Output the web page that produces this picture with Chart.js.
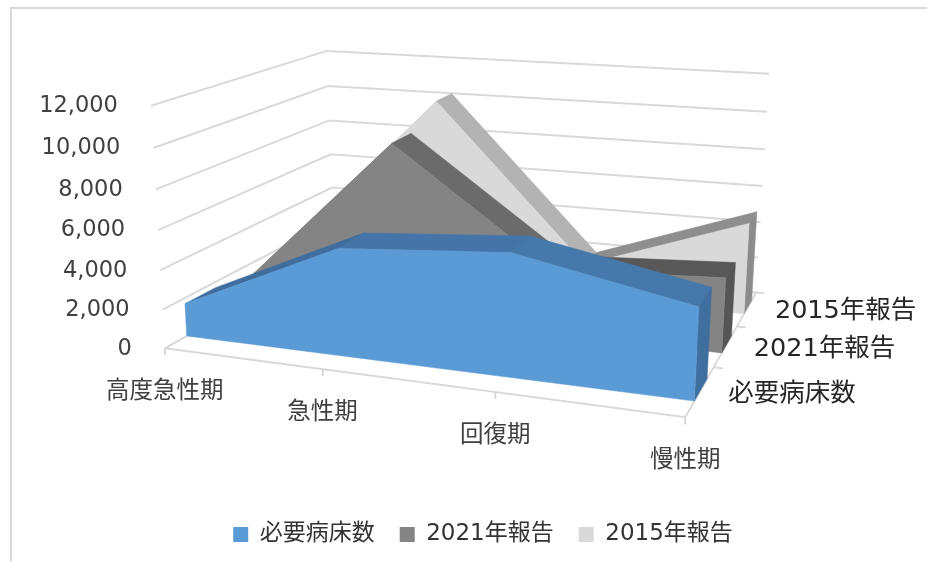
<!DOCTYPE html>
<html>
<head>
<meta charset="utf-8">
<style>
  html, body { margin: 0; padding: 0; background: #fff; }
  #wrap { width: 928px; height: 562px; }
</style>
<script src="https://cdn.jsdelivr.net/npm/chart.js@4/dist/chart.umd.min.js"></script>
</head>
<body>
<div id="wrap"><canvas id="myChart" width="928" height="562"></canvas></div>
<script>
const categories = ["高度急性期", "急性期", "回復期", "慢性期"]
const seriesNames = ["必要病床数", "2021年報告", "2015年報告"]
const need = [1700, 5450, 6150, 4550]
const report2021 = [1300, 9200, 3400, 3900]
const report2015 = [2300, 10250, 1900, 4950]
const yTicks = [0, 2000, 4000, 6000, 8000, 10000, 12000]
const yMax = 12000

const seriesValues = [need, report2021, report2015]
const frontColors = ["#5b9bd5", "#848484", "#d9d9d9"]
const topColors = [
  ["#3f6d9e", "#4575a8", "#4679ab"],
  ["#6b6b6b", "#6b6b6b", "#585858"],
  ["#b3b3b3", "#b3b3b3", "#8e8e8e"],
]
const sideColors = ["#3f6f9f", "#555555", "#8c8c8c"]
const gridColor = "#d9d9d9"
const textFont = '"DejaVu Sans", "Noto Sans CJK JP", sans-serif'

// corners of the 3d box in the picture: floor and top of it
const box = {
  floor: { fl: [165, 348], bl: [335, 252], fr: [686, 417], br: [757, 292] },
  top: { fl: [151, 105], bl: [327, 50], fr: [698, 154], br: [770, 73] },
}
const sliceStart = [0.3, 1.33, 2.35]
const sliceEnd = [0.75, 1.75, 2.75]

function persp(t, a) {
  return (t * a) / (t * a + 1 - t)
}

function mix(p, q, t) {
  return [p[0] + (q[0] - p[0]) * t, p[1] + (q[1] - p[1]) * t]
}

// u = category 0..3, v = value, z = depth 0..3
function proj(u, v, z) {
  const tu = persp(u / 3, 0.87)
  const tv = persp(v / yMax, 0.95)
  const tz = persp(z / 3, 1.333)
  const f = mix(mix(box.floor.fl, box.floor.fr, tu), mix(box.floor.bl, box.floor.br, tu), tz)
  const t = mix(mix(box.top.fl, box.top.fr, tu), mix(box.top.bl, box.top.br, tu), tz)
  const p = mix(f, t, tv)
  return { x: p[0], y: p[1] }
}

function shape(points, color) {
  return {
    data: points.concat([points[0]]),
    backgroundColor: color,
    borderColor: color,
    borderWidth: 0.5,
    fill: "shape",
    pointRadius: 0,
    tension: 0,
  }
}

function line(points, color, width) {
  return {
    data: points,
    borderColor: color,
    borderWidth: width,
    fill: false,
    pointRadius: 0,
    tension: 0,
    clip: false,
  }
}

// listed back to front, reversed at the end because chart.js draws the first dataset last
const ds = []

// right to left so the points left of the scale are not culled
ds.push(line([{ x: 928, y: 7 }, { x: 11, y: 7 }, { x: 11, y: 562 }], gridColor, 2))

yTicks.forEach(function (v) {
  if (v === 0) return
  ds.push(line([proj(0, v, 0), proj(0, v, 3), proj(3, v, 3)], gridColor, 2))
})
ds.push(line([proj(0, 0, 0), proj(0, 0, 3), proj(3, 0, 3), proj(3, 0, 0), proj(0, 0, 0)], gridColor, 2))

categories.forEach(function (c, k) {
  ds.push(line([proj(k, 0, 0), proj(k, -350, 0)], gridColor, 2))
})
for (let i = 1; i <= 3; i++) {
  ds.push(line([proj(3, 0, i), proj(3.05, 0, i)], gridColor, 2))
}

for (let s = 2; s >= 0; s--) {
  const vals = seriesValues[s]
  const z0 = sliceStart[s]
  const z1 = sliceEnd[s]
  for (let k = 0; k < 3; k++) {
    ds.push(shape([proj(k, vals[k], z0), proj(k, vals[k], z1), proj(k + 1, vals[k + 1], z1), proj(k + 1, vals[k + 1], z0)], topColors[s][k]))
  }
  ds.push(shape([proj(3, 0, z0), proj(3, 0, z1), proj(3, vals[3], z1), proj(3, vals[3], z0)], sideColors[s]))
  const front = [proj(0, 0, z0)]
  vals.forEach(function (v, k) {
    front.push(proj(k, v, z0))
  })
  front.push(proj(3, 0, z0))
  ds.push(shape(front, frontColors[s]))
}

const labelsPlugin = {
  id: "boxLabels",
  afterDraw: function (chart) {
    const c = chart.ctx
    const sx = chart.scales.x
    const sy = chart.scales.y
    c.save()
    c.textBaseline = "middle"
    c.font = "22.5px " + textFont
    c.fillStyle = "#404040"
    c.textAlign = "right"
    yTicks.forEach(function (v) {
      const p = proj(0, v, 0)
      c.fillText(v.toLocaleString("en-US"), sx.getPixelForValue(p.x - 33), sy.getPixelForValue(p.y + 0.5))
    })
    c.textAlign = "center"
    c.font = "23.5px " + textFont
    categories.forEach(function (name, k) {
      const p = proj(k, 0, 0)
      c.fillText(name, sx.getPixelForValue(p.x), sy.getPixelForValue(p.y + 44))
    })
    c.textAlign = "left"
    c.font = "25.5px " + textFont
    c.fillStyle = "#262626"
    seriesNames.forEach(function (name, s) {
      const p = proj(3, 0, s + 0.5)
      c.fillText(name, sx.getPixelForValue(p.x + 28), sy.getPixelForValue(p.y + 3))
    })
    c.restore()
  },
}

const config = {
  type: "line",
  data: { datasets: ds.reverse() },
  options: {
    responsive: false,
    animation: false,
    layout: { padding: { left: 38, right: 0, top: 0, bottom: 6 } },
    scales: {
      x: { type: "linear", display: false, min: 0, max: 928 },
      y: { type: "linear", display: false, reverse: true, min: 0, max: 562 },
    },
    plugins: {
      tooltip: { enabled: false },
      legend: {
        position: "bottom",
        labels: {
          font: { size: 23, family: textFont },
          color: "#333333",
          boxWidth: 15,
          boxHeight: 15,
          padding: 25,
          generateLabels: function () {
            return seriesNames.map(function (name, s) {
              return { text: name, fillStyle: frontColors[s], strokeStyle: frontColors[s], lineWidth: 0, fontColor: "#333333" }
            })
          },
        },
      },
    },
  },
  plugins: [labelsPlugin],
}

const myChart = new Chart(document.getElementById("myChart"), config)
// legend and padding take room, keep the scales at one pixel per unit
myChart.options.scales.x.min = myChart.chartArea.left
myChart.options.scales.x.max = myChart.chartArea.right
myChart.options.scales.y.max = myChart.chartArea.bottom
myChart.update("none")
</script>
</body>
</html>
